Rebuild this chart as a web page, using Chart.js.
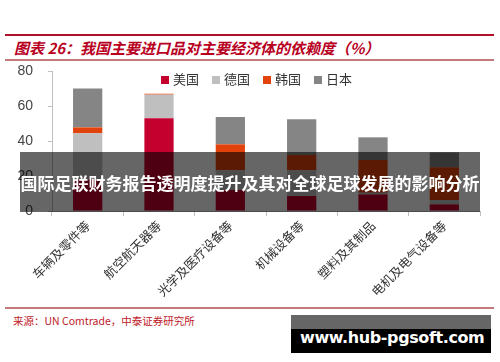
<!DOCTYPE html>
<html>
<head>
<meta charset="utf-8">
<script src="https://cdn.jsdelivr.net/npm/chart.js@4"></script>
<style>
  html, body { margin: 0; padding: 0; background: #fff; }
  body { width: 500px; height: 362px; position: relative; overflow: hidden; font-family: "Noto Sans CJK SC", sans-serif; }
  .rule { position: absolute; left: 5px; width: 489px; }
  #title { position: absolute; left: 14px; top: 37px; font-size: 15px; font-weight: bold; font-style: italic; color: #b8001e; white-space: nowrap; }
  #chartBox { position: absolute; left: 0; top: 62px; width: 500px; height: 240px; }
  #legend { position: absolute; left: 161px; top: 69px; display: flex; gap: 13px; font-size: 13px; color: #333; white-space: nowrap; }
  #legend span.sw { display: inline-block; width: 8px; height: 8px; margin-right: 4px; vertical-align: 0px; }
  #banner { position: absolute; left: 20px; top: 152px; width: 460px; height: 60px; background: rgba(0,0,0,0.6); color: #fff; font-size: 17px; font-weight: bold; text-align: center; line-height: 62px; white-space: nowrap; }
  #source { position: absolute; left: 13px; top: 313px; font-size: 10.5px; color: #c0202a; white-space: nowrap; }
  #mark { position: absolute; left: 291px; top: 315px; width: 200px; height: 38px; background: linear-gradient(#666 0, #666 14px, #000 14px); }
  #mark div { position: absolute; left: 9px; top: 13px; font-family: "DejaVu Sans", sans-serif; font-weight: bold; font-size: 16px; line-height: 20px; color: #fff; letter-spacing: -0.4px; white-space: nowrap; }
</style>
</head>
<body>
<div class="rule" style="top:34px;height:2px;background:#b0102a"></div>
<div id="title">图表 26：我国主要进口品对主要经济体的依赖度（%）</div>
<div class="rule" style="top:59px;height:2px;background:#c47a7a"></div>
<div id="chartBox"><canvas id="importChart"></canvas></div>
<div id="legend"></div>
<div id="banner">国际足联财务报告透明度提升及其对全球足球发展的影响分析</div>
<div class="rule" style="top:307px;height:2px;background:#c47a7a"></div>
<div id="source">来源：UN Comtrade，中泰证券研究所</div>
<div id="mark"><div>www.hub-pgsoft.com</div></div>

<script>
// Categories and series (% dependence)
const categories = ['车辆及零件等', '航空航天器等', '光学及医疗设备等', '机械设备等', '塑料及其制品', '电机及电气设备等'];
const seriesNames = ['美国', '德国', '韩国', '日本'];
const usValues = [18, 53, 12, 8.6, 9.5, 3.8];
const germanyValues = [26.4, 13.5, 11.4, 14.8, 1, 2.5];
const koreaValues = [3.4, 0.5, 14.7, 8.6, 18.6, 18.7];
const japanValues = [22.2, 0, 15.6, 20.4, 13, 8.5];
const yTicks = [0, 20, 40, 60, 80];

const colors = {
    us: '#c4002f',
    germany: '#bfbfbf',
    korea: '#e2420c',
    japan: '#858585',
    axis: '#bfbfbf'
};

const seriesColors = [colors.us, colors.germany, colors.korea, colors.japan];
const seriesData = [usValues, germanyValues, koreaValues, japanValues];

// Legend (sits inside the plot area in the original)
const legendEl = document.getElementById('legend');
seriesNames.forEach(function(name, i) {
    const item = document.createElement('div');
    item.innerHTML = '<span class="sw" style="background:' + seriesColors[i] + '"></span>' + name;
    legendEl.appendChild(item);
});

const ctx = document.getElementById('importChart');
new Chart(ctx, {
    type: 'bar',
    data: {
        labels: categories,
        datasets: seriesNames.map(function(name, i) {
            return {
                label: name,
                data: seriesData[i],
                backgroundColor: seriesColors[i],
                borderWidth: 0,
                barPercentage: 0.41,
                categoryPercentage: 1
            };
        })
    },
    options: {
        responsive: true,
        maintainAspectRatio: false,
        animation: false,
        layout: { padding: { top: 9, right: 20, left: 0, bottom: 0 } },
        plugins: {
            legend: { display: false },
            tooltip: { enabled: false }
        },
        scales: {
            x: {
                stacked: true,
                grid: { drawOnChartArea: false, tickLength: 5, color: colors.axis },
                border: { color: colors.axis },
                ticks: {
                    minRotation: 45,
                    maxRotation: 45,
                    padding: 2,
                    color: '#333',
                    font: { family: 'Noto Sans CJK SC', size: 12.5 }
                },
                afterFit: function(scale) { scale.height = 91; }
            },
            y: {
                stacked: true,
                min: yTicks[0],
                max: yTicks[yTicks.length - 1],
                afterBuildTicks: function(scale) {
                    scale.ticks = yTicks.map(v => ({ value: v }));
                },
                grid: { drawOnChartArea: false, tickLength: 4, color: colors.axis },
                border: { color: colors.axis },
                ticks: {
                    padding: 15,
                    color: '#444',
                    font: { family: 'Liberation Sans', size: 14 }
                },
                afterFit: function(scale) {
                    scale.width = 52;
                    // tick padding would otherwise push the plot top down
                    scale.paddingTop = 0;
                    scale.paddingBottom = 0;
                }
            }
        }
    }
});
</script>
</body>
</html>
